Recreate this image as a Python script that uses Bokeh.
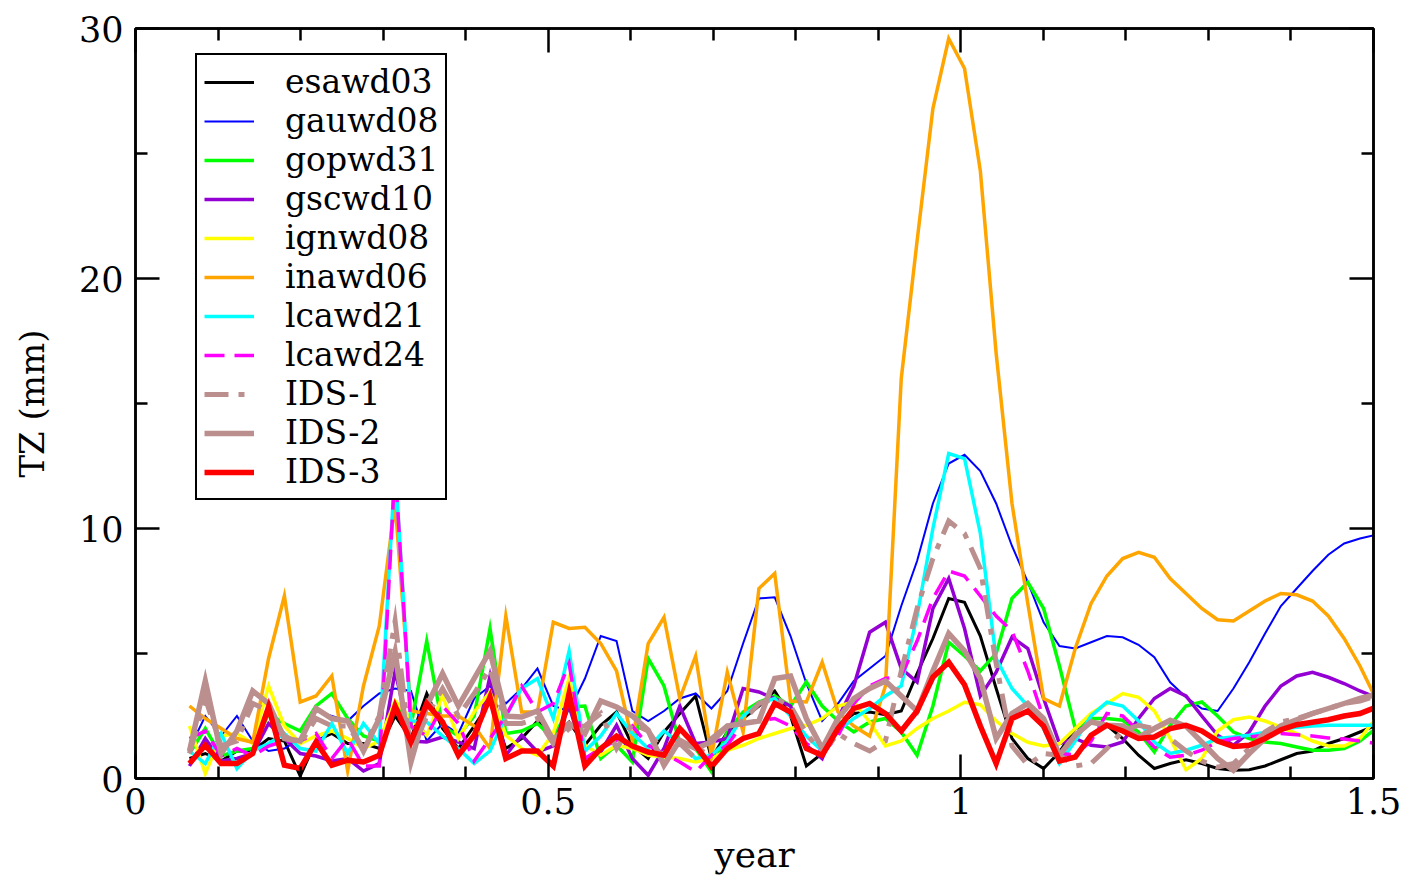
from bokeh.plotting import figure
from bokeh.models import (Legend, LegendItem, LinearAxis, FixedTicker, Range1d,
                          CustomLabelingPolicy)
from bokeh.embed import file_html
from bokeh.resources import INLINE

# weekly sampling (decimal years)
start_year = 0.0654
step_year = 7 / 365.25
n_weeks = 76
weeks = [start_year + k * step_year for k in range(n_weeks)]

esawd03 = [0.8, 1.0, 0.7, 1.1, 1.1, 1.6, 1.5, 0.1, 1.5, 1.8, 1.4, 1.4, 1.2, 2.5,
           1.6, 3.4, 2.0, 1.2, 2.1, 3.06, 1.2, 1.6, 2.3, 1.6, 2.26, 1.33, 2.13, 2.66, 1.33, 0.8,
           1.86, 2.6, 3.3, 0.8, 1.86, 2.4, 2.9, 3.5, 2.5, 0.5, 1.0, 2.1, 2.6, 2.66, 2.55, 2.7,
           4.2, 5.6, 7.2, 7.05, 5.7, 3.6, 1.6, 0.8, 0.4, 1.06, 2.0, 2.26, 2.13, 1.6, 0.93, 0.4,
           0.6, 0.75, 0.6, 0.4, 0.33, 0.35, 0.5, 0.75, 1.0, 1.1, 1.4, 1.6, 1.86, 2.13]
gauwd08 = [1.2, 2.5, 1.7, 2.5, 1.5, 1.1, 1.2, 1.6, 2.7, 2.5, 2.3, 2.9,
           3.4, 3.6, 3.5, 1.5, 2.2, 1.8, 3.2, 3.7, 3.0, 3.6, 4.4, 2.9, 2.7, 4.0, 5.7, 5.5, 2.7, 2.3,
           2.7, 3.2, 3.4, 2.8, 3.5, 5.4, 7.2, 7.25, 5.7, 3.8, 2.3, 3.0, 3.9, 4.4, 4.9, 6.9, 8.7,
           11.0, 12.6, 12.95, 12.3, 11.0, 9.3, 7.85, 6.25, 5.3, 5.2, 5.45, 5.7, 5.65, 5.35, 4.85,
           3.85, 3.25, 2.8, 2.7, 3.6, 4.65, 5.8, 6.9, 7.6, 8.3, 8.95, 9.4, 9.6, 9.75]
gopwd31 = [1.0, 2.0, 0.9, 1.1, 1.2, 2.6, 2.2, 1.9, 2.9, 3.4, 2.4, 1.7, 1.5, 3.0,
           2.1, 5.5, 2.1, 1.7, 2.5, 6.0, 1.8, 1.9, 2.2, 1.6, 2.86, 2.9, 0.8, 1.33, 0.66, 4.8,
           3.7, 1.4, 1.2, 0.27, 1.86, 2.66, 3.06, 3.3, 2.9, 3.86, 2.9, 2.3, 1.86, 2.26, 2.4, 1.86,
           0.93, 2.9, 5.45, 4.9, 4.3, 5.0, 7.2, 7.85, 6.8, 4.5, 2.0, 2.4, 2.4, 2.33, 1.86, 1.06,
           2.13, 2.9, 3.06, 2.5, 1.86, 1.6, 1.46, 1.4, 1.26, 1.13, 1.13, 1.2, 1.5, 2.0]
gscwd10 = [0.5, 1.6, 0.7, 0.8, 1.0, 2.2, 1.6, 1.0, 0.9, 0.7, 0.8, 0.3, 0.6, 4.3,
           1.5, 1.46, 1.66, 1.46, 1.2, 4.1, 0.93, 1.73, 1.06, 1.3, 2.9, 0.8, 1.06, 2.13, 0.8, 0.13,
           1.2, 2.9, 1.4, 1.46, 1.6, 3.6, 3.46, 3.2, 2.9, 1.33, 0.8, 2.4, 3.7, 5.85, 6.25, 4.4,
           3.86, 6.8, 8.0, 6.0, 3.3, 4.25, 5.65, 5.2, 3.2, 1.4, 1.6, 1.33, 1.26, 1.46, 2.4, 3.2,
           3.6, 3.3, 2.5, 1.73, 1.33, 1.86, 2.9, 3.7, 4.1, 4.25, 4.05, 3.8, 3.5, 3.25]
ignwd08 = [2.1, 0.2, 1.7, 1.8, 1.4, 3.7, 2.1, 1.4, 1.7, 1.9, 1.6, 1.2, 1.5, 3.1,
           2.4, 1.73, 3.3, 1.6, 2.66, 3.46, 1.73, 1.2, 0.93, 1.8, 4.0, 1.33, 0.93, 1.33, 1.2, 0.93,
           0.86, 0.8, 0.66, 0.8, 1.13, 1.33, 1.6, 1.8, 2.0, 2.13, 2.4, 2.9, 3.06, 2.26, 1.3, 1.5,
           2.0, 2.4, 2.7, 3.05, 2.95, 2.3, 1.8, 1.45, 1.3, 1.4, 2.0, 2.6, 3.0, 3.4, 3.25, 2.7,
           1.6, 0.35, 0.8, 1.9, 2.35, 2.46, 2.3, 2.05, 1.8, 1.5, 1.3, 1.3, 1.6, 2.4]
inawd06 = [2.9, 2.4, 2.0, 1.6, 1.45, 4.8, 7.3, 3.06, 3.3, 4.1, 0.3, 3.7, 6.1, 11.0,
           2.7, 2.6, 2.5, 2.5, 2.1, 1.2, 6.5, 2.66, 2.66, 6.25, 6.0, 6.05, 5.4, 4.3, 1.5, 5.4,
           6.45, 3.2, 4.9, 0.9, 4.25, 1.86, 7.6, 8.2, 3.1, 3.06, 4.65, 2.66, 2.1, 1.7, 3.7, 16.0,
           21.5, 26.8, 29.6, 28.4, 24.3, 17.0, 11.0, 7.0, 3.2, 2.9, 5.2, 7.0, 8.1, 8.8, 9.05, 8.85,
           8.0, 7.4, 6.8, 6.35, 6.3, 6.7, 7.1, 7.4, 7.35, 7.1, 6.5, 5.6, 4.5, 3.2]
lcawd21 = [1.1, 0.6, 1.8, 0.4, 1.1, 1.4, 1.8, 1.2, 1.1, 2.2, 1.0, 2.2, 1.4, 12.5,
           2.3, 2.26, 1.7, 1.2, 0.6, 1.1, 2.5, 3.6, 4.0, 2.4, 5.1, 1.1, 1.7, 2.6, 1.8, 1.2,
           1.9, 1.4, 0.8, 0.93, 1.5, 2.5, 3.0, 3.2, 2.5, 1.7, 1.1, 1.9, 2.4, 2.8, 3.3, 3.7,
           6.5, 10.0, 13.0, 12.8, 9.8, 4.8, 3.6, 2.9, 2.0, 0.6, 1.5, 2.5, 3.05, 2.9, 2.3, 1.45,
           1.0, 1.13, 1.33, 1.6, 1.66, 1.73, 1.85, 1.98, 2.05, 2.1, 2.13, 2.13, 2.13, 2.13]
lcawd24 = [1.6, 1.9, 0.9, 1.2, 0.9, 1.3, 1.5, 1.5, 1.8, 0.8, 1.6, 0.5, 0.5, 12.5,
           2.1, 1.7, 2.9, 2.2, 0.7, 1.6, 2.5, 3.7, 2.66, 3.0, 4.6, 0.8, 1.2, 1.53, 2.1, 1.33,
           1.0, 0.66, 0.27, 0.93, 1.33, 2.2, 2.3, 2.4, 2.1, 1.4, 1.0, 1.7, 3.0, 3.7, 4.0, 4.1,
           5.5, 7.2, 8.3, 8.1, 7.3, 6.5, 5.9, 4.3, 2.4, 1.0, 0.95, 1.5, 2.6, 2.5, 1.9, 1.25,
           0.85, 0.93, 1.13, 1.46, 1.6, 1.66, 1.73, 1.8, 1.75, 1.7, 1.62, 1.58, 1.5, 1.4]
ids1 = [1.0, 3.2, 1.3, 1.5, 3.0, 2.7, 1.7, 1.4, 2.4, 2.1, 2.1, 1.2, 2.5, 6.3,
        1.0, 2.5, 3.6, 2.5, 3.4, 4.4, 2.2, 2.2, 2.4, 1.4, 2.0, 2.1, 2.6, 1.2, 2.2, 1.9,
        1.0, 1.4, 0.8, 1.6, 2.1, 2.3, 3.0, 3.2, 2.9, 1.8, 1.0, 1.8, 1.4, 1.1, 1.5, 4.3,
        6.8, 8.8, 10.3, 9.8, 8.4, 4.6, 1.3, 0.53, 1.0, 0.93, 0.5, 0.6, 1.2, 1.9, 2.13, 2.0,
        1.6, 1.1, 0.7, 0.45, 0.6, 1.2, 1.86, 2.26, 2.4, 2.6, 2.8, 3.0, 3.1, 3.3]
ids2 = [1.1, 3.9, 1.0, 1.9, 3.5, 3.0, 1.6, 1.5, 2.8, 2.4, 2.3, 1.1, 2.4, 5.05,
        0.66, 2.9, 4.2, 2.9, 4.0, 5.1, 2.5, 2.46, 2.7, 1.53, 2.2, 1.8, 3.1, 2.86, 2.5, 1.93,
        0.53, 1.53, 1.2, 1.46, 2.1, 2.2, 2.3, 4.0, 4.1, 2.4, 1.2, 2.4, 3.2, 3.6, 3.9, 3.3,
        2.7, 4.3, 5.8, 5.1, 4.0, 1.6, 2.6, 3.0, 2.4, 0.93, 1.73, 2.26, 2.13, 2.1, 1.65, 2.0,
        2.33, 2.1, 1.46, 0.8, 0.33, 1.0, 1.6, 2.1, 2.35, 2.6, 2.8, 3.0, 3.2, 3.35]
ids3 = [0.6, 1.33, 0.6, 0.6, 1.0, 2.86, 0.53, 0.4, 1.46, 0.53, 0.73, 0.66, 0.93, 2.9,
        1.46, 3.0, 2.26, 0.93, 1.73, 3.26, 0.8, 1.1, 1.1, 0.5, 3.4, 0.5, 1.2, 1.7, 1.3, 1.06,
        0.93, 2.0, 1.33, 0.47, 1.2, 1.6, 1.8, 3.0, 2.66, 1.2, 0.93, 2.0, 2.8, 3.0, 2.6, 1.9,
        2.7, 4.05, 4.65, 3.75, 2.1, 0.6, 2.4, 2.7, 2.1, 0.7, 0.86, 1.73, 2.13, 1.9, 1.6, 1.66,
        2.0, 2.13, 1.9, 1.5, 1.28, 1.33, 1.6, 1.95, 2.15, 2.25, 2.35, 2.5, 2.6, 2.85]

x_ticks = [0, 0.5, 1, 1.5]
x_tick_labels = ["0", "0.5", "1", "1.5"]
x_minor = [0.1, 0.2, 0.3, 0.4, 0.6, 0.7, 0.8, 0.9, 1.1, 1.2, 1.3, 1.4]
y_ticks = [0, 10, 20, 30]
y_tick_labels = ["0", "10", "20", "30"]
y_minor = [5, 15, 25]

series = [
    ("esawd03", esawd03, "#000000", 3, "solid"),
    ("gauwd08", gauwd08, "#0000ff", 2, "solid"),
    ("gopwd31", gopwd31, "#00ff00", 3.5, "solid"),
    ("gscwd10", gscwd10, "#9400d3", 3.5, "solid"),
    ("ignwd08", ignwd08, "#ffff00", 3.5, "solid"),
    ("inawd06", inawd06, "#ffa500", 3.5, "solid"),
    ("lcawd21", lcawd21, "#00ffff", 3.5, "solid"),
    ("lcawd24", lcawd24, "#ff00ff", 3.5, "20 10"),
    ("IDS-1", ids1, "#bc8f8f", 5, "24 10 6 10"),
    ("IDS-2", ids2, "#bc8f8f", 5.5, "solid"),
    ("IDS-3", ids3, "#ff0000", 5.5, "solid"),
]

FONT = "DejaVu Serif"

p = figure(width=1404, height=877, x_range=Range1d(0, 1.5), y_range=Range1d(0, 30),
           output_backend="svg", toolbar_location=None,
           min_border_left=135, min_border_right=31, min_border_top=28, min_border_bottom=97)
p.xgrid.visible = False
p.ygrid.visible = False
p.outline_line_color = "black"
p.outline_line_width = 2.5
p.outline_line_alpha = 1.0
p.background_fill_color = "white"
p.border_fill_color = "white"

items = []
for name, vals, color, width, dash in series:
    r = p.line(weeks, vals, line_color=color, line_width=width, line_dash=dash, line_join="miter")
    items.append(LegendItem(label=name, renderers=[r]))

xt = FixedTicker(ticks=x_ticks, minor_ticks=x_minor)
yt = FixedTicker(ticks=y_ticks, minor_ticks=y_minor)


def style_axis(ax):
    ax.axis_line_color = "black"
    ax.axis_line_width = 2.5
    ax.major_tick_in = 24
    ax.major_tick_out = 0
    ax.minor_tick_in = 12
    ax.minor_tick_out = 0
    ax.major_tick_line_width = 2.5
    ax.minor_tick_line_width = 2.5
    ax.major_tick_line_color = "black"
    ax.minor_tick_line_color = "black"
    ax.major_label_text_font = FONT
    ax.major_label_text_color = "black"
    ax.axis_label_text_color = "black"


xa = p.xaxis[0]
xa.ticker = xt
xa.major_label_overrides = {t: l for t, l in zip(x_ticks, x_tick_labels)}
style_axis(xa)
xa.major_label_text_font_size = "35px"
xa.major_label_standoff = 9
xa.axis_label = "year"
xa.axis_label_text_font = FONT
xa.axis_label_text_font_size = "36px"
xa.axis_label_text_font_style = "normal"
xa.axis_label_standoff = 17

ya = p.yaxis[0]
ya.ticker = yt
ya.major_label_overrides = {t: l for t, l in zip(y_ticks, y_tick_labels)}
style_axis(ya)
ya.major_label_text_font_size = "35px"
ya.major_label_standoff = 12
ya.axis_label = "TZ (mm)"
ya.axis_label_text_font = FONT
ya.axis_label_text_font_size = "34px"
ya.axis_label_text_font_style = "normal"
ya.axis_label_standoff = 24

top = LinearAxis(ticker=FixedTicker(ticks=x_ticks, minor_ticks=x_minor))
style_axis(top)
top.major_label_policy = CustomLabelingPolicy(code="return []")
top.major_label_standoff = 0
p.add_layout(top, "above")
right = LinearAxis(ticker=FixedTicker(ticks=y_ticks, minor_ticks=y_minor))
style_axis(right)
right.major_label_policy = CustomLabelingPolicy(code="return []")
right.major_label_standoff = 0
p.add_layout(right, "right")

legend = Legend(items=items, location=(60, 278))
legend.border_line_color = "black"
legend.border_line_alpha = 1.0
legend.border_line_width = 2.5
legend.background_fill_color = "white"
legend.background_fill_alpha = 1.0
legend.label_text_font = FONT
legend.label_text_font_size = "33px"
legend.label_text_color = "black"
legend.glyph_width = 50
legend.glyph_height = 36
legend.label_height = 36
legend.spacing = 0
legend.padding = 7
legend.label_standoff = 31
legend.margin = 0
p.add_layout(legend)

open("out.html", "w").write(file_html(p, INLINE))
